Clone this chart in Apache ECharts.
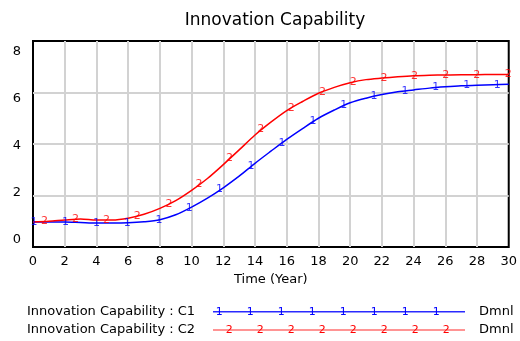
<!DOCTYPE html>
<html><head><meta charset="utf-8">
<script src="https://cdn.jsdelivr.net/npm/echarts@6/dist/echarts.min.js"></script>
<style>html,body{margin:0;padding:0;background:#fff}#c{width:520px;height:341px}</style>
</head><body><div id="c"></div>
<script>
const titleText = 'Innovation Capability';
const xName = 'Time (Year)';
const years = [0,1,2,3,4,5,6,7,8,9,10,11,12,13,14,15,16,17,18,19,20,21,22,23,24,25,26,27,28,29,30];
const c1 = [0.97,0.97,0.97,0.95,0.93,0.93,0.94,0.98,1.06,1.25,1.55,1.9,2.3,2.75,3.25,3.72,4.18,4.6,5.0,5.32,5.6,5.78,5.92,6.03,6.1,6.17,6.22,6.26,6.28,6.3,6.32];
const c2 = [0.97,1.0,1.05,1.09,1.05,1.05,1.12,1.27,1.5,1.8,2.2,2.66,3.2,3.77,4.35,4.85,5.3,5.65,5.97,6.2,6.38,6.5,6.56,6.61,6.65,6.67,6.68,6.69,6.69,6.7,6.7];
const c1MarkT = [0.06,2.05,4.0,5.95,7.94,9.86,11.76,13.75,15.7,17.65,19.6,21.5,23.46,25.4,27.36,29.28];
const c1MarkV = [0.97,0.97,0.93,0.94,1.05,1.52,2.23,3.14,4.05,4.89,5.5,5.84,6.06,6.19,6.27,6.3];
const c2MarkT = [0.73,2.68,4.64,6.58,8.57,10.47,12.39,14.37,16.29,18.25,20.2,22.14,24.06,26.03,27.99,29.97];
const c2MarkV = [1.0,1.09,1.05,1.21,1.66,2.43,3.44,4.57,5.41,6.03,6.41,6.56,6.65,6.68,6.69,6.7];
const yTicks = [0,2,4,6,8];
const legendNames = ['Innovation Capability : C1','Innovation Capability : C2'];
const legendMarks = ['1','2'];
const unitText = 'Dmnl';

const FONT = 'DejaVu Sans';
const blue = '#0000ff', red = '#ff0000';

function pairs(t, v){ return t.map((x,i)=>[x, v[i]]); }

const graphic = [];
const legRows = [311.7, 330];
const legColors = ['#2a2aff', '#ff7070'];
const legMarkColors = [blue, red];
const legMarkStart = [219.3, 229.3];
legendNames.forEach((name, r) => {
  graphic.push({type:'text', left:27, top:legRows[r]-7, style:{text:name, font:'13px "'+FONT+'"', fill:'#000'}});
  graphic.push({type:'line', shape:{x1:213, y1:legRows[r], x2:465, y2:legRows[r]}, style:{stroke:legColors[r], lineWidth:1.5}});
  for (let i=0;i<8;i++){
    graphic.push({type:'text', x:legMarkStart[r]+i*31, y:legRows[r], style:{text:legendMarks[r], font:'11px "'+FONT+'"', fill:legMarkColors[r], align:'center', verticalAlign:'middle'}});
  }
  graphic.push({type:'text', left:479, top:legRows[r]-7, style:{text:unitText, font:'13px "'+FONT+'"', fill:'#000'}});
});

const markLabel = (txt, col) => ({show:true, position:'inside', formatter:txt, color:col, fontFamily:FONT, fontSize:11});
const gridLine = {show:true, showMinLine:false, showMaxLine:false, lineStyle:{color:'#d2d2d2', width:2}};

const option = {
  animation:false,
  backgroundColor:'#fff',
  textStyle:{fontFamily:FONT},
  title:{text:titleText, left:270, top:7, textAlign:'center', textStyle:{fontFamily:FONT, fontSize:17, fontWeight:'normal', color:'#000'}},
  grid:[
    {left:33, right:8, top:41, bottom:94, show:true, borderColor:'#000', borderWidth:2, backgroundColor:'#fff', z:0},
    {left:33, right:8, top:52, height:188, show:false}
  ],
  xAxis:[
    {type:'value', gridIndex:0, min:0, max:30, interval:2,
     name:xName, nameLocation:'middle', nameGap:26, nameTextStyle:{fontFamily:FONT, fontSize:13, color:'#000'},
     axisLine:{show:false}, axisTick:{show:false},
     axisLabel:{color:'#000', fontFamily:FONT, fontSize:13, margin:8},
     splitLine:gridLine},
    {type:'value', gridIndex:1, min:0, max:30, show:false}
  ],
  yAxis:[
    {type:'value', gridIndex:0, min:0, max:8, interval:2,
     axisLine:{show:false}, axisTick:{show:false}, axisLabel:{show:false},
     splitLine:gridLine},
    {type:'value', gridIndex:1, min:yTicks[0], max:yTicks[yTicks.length-1], interval:2,
     axisLine:{show:false}, axisTick:{show:false}, splitLine:{show:false},
     axisLabel:{color:'#000', fontFamily:FONT, fontSize:13, margin:12}}
  ],
  graphic: graphic,
  series:[
    {type:'line', xAxisIndex:0, yAxisIndex:0, data:pairs(years,c1), smooth:0.3, showSymbol:false, lineStyle:{color:blue, width:1.5}, z:3},
    {type:'line', xAxisIndex:0, yAxisIndex:0, data:pairs(years,c2), smooth:0.3, showSymbol:false, lineStyle:{color:red, width:1.5}, z:3},
    {type:'scatter', xAxisIndex:0, yAxisIndex:0, data:pairs(c1MarkT,c1MarkV), symbolSize:1, itemStyle:{color:'rgba(0,0,0,0)'}, label:markLabel('1', blue), z:4},
    {type:'scatter', xAxisIndex:0, yAxisIndex:0, data:pairs(c2MarkT,c2MarkV), symbolSize:1, itemStyle:{color:'rgba(0,0,0,0)'}, label:markLabel('2', red), z:4}
  ]
};
const chart = echarts.init(document.getElementById('c'), null, {renderer:'canvas'});
chart.setOption(option);
</script></body></html>
